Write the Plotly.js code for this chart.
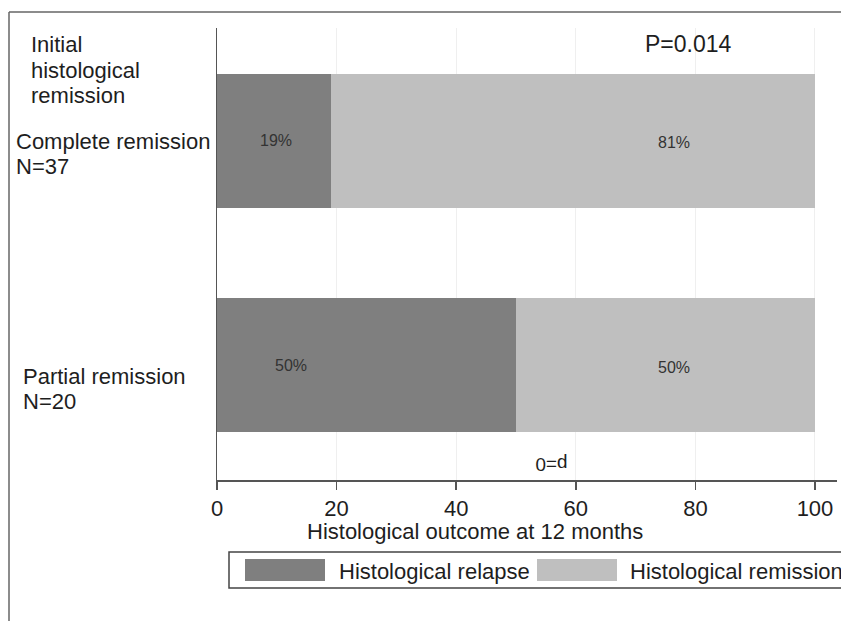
<!DOCTYPE html>
<html>
<head>
<meta charset="utf-8">
<script src="https://cdn.plot.ly/plotly-3.0.1.min.js"></script>
<style>
  html, body { margin: 0; padding: 0; background: #ffffff; }
  #chart { width: 841px; height: 621px; }
</style>
</head>
<body>
<div id="chart"></div>
<script>
// ---------------- data ----------------
const categories = ["Complete remission", "Partial remission"];
const catN = [37, 20];
const relapse = [19, 50];
const remission = [81, 50];
const seriesNames = ["Histological relapse", "Histological remission"];
const xTicks = [0, 20, 40, 60, 80, 100];
const headerLines = ["Initial", "histological", "remission"];
const xTitle = "Histological outcome at 12 months";
const pText = "P=0.014";
const flippedText = "p=0";

// ---------------- style ----------------
const FONT = "Liberation Sans, Arial, Helvetica, sans-serif";
const darkCol = "#7f7f7f";
const lightCol = "#bfbfbf";
const lineCol = "#555555";
const textCol = "#1e1e1e";
const barTextCol = "#333333";
const LBL = 22;
// label x positions (data units) inside the bars, as in the original figure
const relapseLabelX = [9.9, 12.4];
const remissionLabelX = [76.4, 76.4];
const catLabelLeft = [-0.327, -0.316];
const catLabelShift = [[-1, -26], [-11, -36]];

const yPos = categories.map((c, i) => categories.length - 1 - i);

const traces = [
  {
    type: "bar", orientation: "h", name: seriesNames[0],
    x: relapse, y: yPos, width: 0.594,
    marker: { color: darkCol, line: { width: 0 } },
    hoverinfo: "skip", showlegend: false
  },
  {
    type: "bar", orientation: "h", name: seriesNames[1],
    x: remission, y: yPos, width: 0.594,
    marker: { color: lightCol, line: { width: 0 } },
    hoverinfo: "skip", showlegend: false
  }
];

const annotations = [];
function ann(o) {
  annotations.push(Object.assign({ showarrow: false, xanchor: "center", yanchor: "middle" }, o));
}
// bar labels
relapse.forEach((v, i) => ann({
  xref: "x", yref: "y", x: relapseLabelX[i], y: yPos[i], text: v + "%",
  font: { family: FONT, size: 16, color: barTextCol }
}));
remission.forEach((v, i) => ann({
  xref: "x", yref: "y", x: remissionLabelX[i], y: yPos[i], yshift: -2, text: v + "%",
  font: { family: FONT, size: 16, color: barTextCol }
}));
// category labels
categories.forEach((c, i) => {
  ann({
    xref: "paper", yref: "y", x: catLabelLeft[i], y: yPos[i], yshift: catLabelShift[i][0],
    xanchor: "left", text: c, font: { family: FONT, size: LBL, color: textCol }
  });
  ann({
    xref: "paper", yref: "y", x: catLabelLeft[i], y: yPos[i], yshift: catLabelShift[i][1],
    xanchor: "left", text: "N=" + catN[i], font: { family: FONT, size: LBL, color: textCol }
  });
});
// header
const headerY = [0.9646, 0.907, 0.8496];
headerLines.forEach((t, i) => ann({
  xref: "paper", yref: "paper", x: -0.303, y: headerY[i], xanchor: "left",
  text: t, font: { family: FONT, size: LBL, color: textCol }
}));
// p value
ann({
  xref: "paper", yref: "paper", x: 0.76, y: 0.9646, text: pText,
  font: { family: FONT, size: 23, color: textCol }
});
// upside-down text
ann({
  xref: "paper", yref: "paper", x: 0.540, y: 0.0354, text: flippedText, textangle: 180,
  font: { family: FONT, size: 19, color: textCol }
});
// x axis title
ann({
  xref: "paper", yref: "paper", x: 0.416, y: (480 - 531) / 452, text: xTitle,
  font: { family: FONT, size: LBL, color: textCol }
});
// legend labels
const legTextX = [(337 - 217) / 620, (628 - 217) / 620];
seriesNames.forEach((n, i) => ann({
  xref: "paper", yref: "paper", x: legTextX[i], y: (480 - 571) / 452, xanchor: "left",
  text: n, font: { family: FONT, size: LBL, color: textCol }
}));

const px = v => (v - 217) / 620;
const py = v => (480 - v) / 452;
const shapes = [
  // outer frame
  { type: "line", xref: "paper", yref: "paper", x0: px(9), x1: px(845), y0: py(12), y1: py(12),
    line: { color: "#666666", width: 1.5 } },
  { type: "line", xref: "paper", yref: "paper", x0: px(9), x1: px(9), y0: py(12), y1: py(625),
    line: { color: "#666666", width: 1.5 } },
  // legend box
  { type: "rect", xref: "paper", yref: "paper", x0: px(229), x1: px(850), y0: py(588), y1: py(552),
    line: { color: "#444444", width: 1.5 }, fillcolor: "rgba(0,0,0,0)" },
  // legend swatches
  { type: "rect", xref: "paper", yref: "paper", x0: px(245), x1: px(325), y0: py(581), y1: py(559),
    line: { width: 0 }, fillcolor: darkCol },
  { type: "rect", xref: "paper", yref: "paper", x0: px(537), x1: px(617), y0: py(581), y1: py(559),
    line: { width: 0 }, fillcolor: lightCol }
];

const layout = {
  width: 841, height: 621,
  margin: { l: 217, r: 4, t: 28, b: 141, pad: 0 },
  paper_bgcolor: "#ffffff", plot_bgcolor: "#ffffff",
  barmode: "stack", bargap: 0,
  font: { family: FONT, color: textCol },
  showlegend: false,
  xaxis: {
    range: [0, 103.68], tickvals: xTicks, ticktext: xTicks.map(String),
    showline: true, linecolor: lineCol, linewidth: 1.5,
    ticks: "outside", ticklen: 8, tickwidth: 1.5, tickcolor: lineCol,
    ticklabelstandoff: 0,
    tickfont: { family: FONT, size: 22, color: textCol },
    showgrid: true, gridcolor: "#efefef", gridwidth: 1, zeroline: false,
    fixedrange: true
  },
  yaxis: {
    range: [-0.513, 1.504], showticklabels: false, ticks: "",
    showline: true, linecolor: lineCol, linewidth: 1.5,
    showgrid: false, zeroline: false, fixedrange: true
  },
  annotations: annotations,
  shapes: shapes
};

Plotly.newPlot("chart", traces, layout, { displayModeBar: false, staticPlot: true });
</script>
</body>
</html>
